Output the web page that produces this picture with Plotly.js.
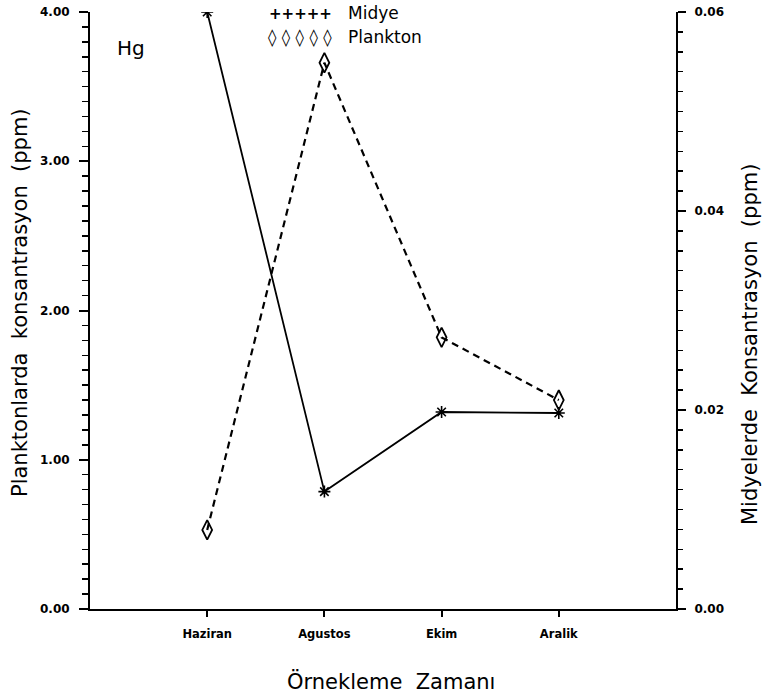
<!DOCTYPE html>
<html>
<head>
<meta charset="utf-8">
<script src="https://cdn.plot.ly/plotly-3.0.1.min.js"></script>
<style>html,body{margin:0;padding:0;background:#fff;}#chart{width:764px;height:698px;}</style>
</head>
<body>
<div id="chart"></div>
<script>
// Sampling months (x categories)
const months = ["Haziran", "Agustos", "Ekim", "Aralik"];
// Hg concentration in mussels (ppm, right axis)
const midye = [0.060, 0.0118, 0.0198, 0.0197];
// Hg concentration in plankton (ppm, left axis)
const plankton = [0.53, 3.66, 1.82, 1.40];
// Tick values
const leftTicks = [0, 1, 2, 3, 4];
const rightTicks = [0, 0.02, 0.04, 0.06];

const L = 90, R = 676, T = 12, B = 609;
const W = 764, H = 698;
const px = x => (x - L) / (R - L);
const py = y => (B - y) / (B - T);

const tickFont = {family: "DejaVu Sans", size: 12, color: "#000", weight: "bold"};
const titleFont = {family: "DejaVu Sans", size: 21, color: "#000"};
const legFont = {family: "DejaVu Sans", size: 17, color: "#000"};

const traces = [
  {
    x: months, y: midye, yaxis: "y2", name: "Midye", type: "scatter",
    mode: "lines+markers",
    line: {color: "#000", width: 1.8},
    marker: {symbol: "asterisk-open", size: 10, color: "#000", line: {color: "#000", width: 1.6}}
  },
  {
    x: months, y: plankton, yaxis: "y", name: "Plankton", type: "scatter",
    mode: "lines+markers",
    line: {color: "#000", width: 2.2, dash: "7px,5px"},
    marker: {symbol: "diamond-tall-open", size: 14, color: "#000", line: {color: "#000", width: 1.8}}
  }
];

const layout = {
  width: W, height: H,
  margin: {l: L, r: W - R, t: T, b: H - B, pad: 0},
  paper_bgcolor: "#fff", plot_bgcolor: "#fff",
  showlegend: false,
  font: {family: "DejaVu Sans", color: "#000"},
  xaxis: {
    type: "category", range: [-1, 4], showgrid: false, zeroline: false,
    showline: true, linecolor: "#000", linewidth: 2,
    ticks: "outside", ticklen: 6, tickwidth: 2, tickcolor: "#000",
    tickfont: {family: "DejaVu Sans", size: 11.5, color: "#000", weight: "bold"},
    ticklabelstandoff: 7
  },
  yaxis: {
    range: [0, 4], tickvals: leftTicks, tickformat: ".2f",
    showgrid: false, zeroline: false,
    showline: true, linecolor: "#000", linewidth: 2,
    ticks: "outside", ticklen: 9, tickwidth: 2, tickcolor: "#000",
    tickfont: tickFont, ticklabelstandoff: 7,
    minor: {dtick: 0.1, ticks: "outside", ticklen: 6, tickwidth: 1.5, tickcolor: "#000", showgrid: false}
  },
  yaxis2: {
    overlaying: "y", side: "right",
    range: [0, 0.06], tickvals: rightTicks, tickformat: ".2f",
    showgrid: false, zeroline: false,
    showline: true, linecolor: "#000", linewidth: 2,
    ticks: "outside", ticklen: 8, tickwidth: 2, tickcolor: "#000",
    tickfont: tickFont, ticklabelstandoff: 6,
    minor: {dtick: 0.002, ticks: "outside", ticklen: 5, tickwidth: 1.5, tickcolor: "#000", showgrid: false}
  },
  annotations: [
    {xref: "paper", yref: "paper", x: px(131), y: py(48), text: "Hg", showarrow: false,
     xanchor: "center", yanchor: "middle", font: {family: "DejaVu Sans", size: 20, color: "#000"}},
    {xref: "paper", yref: "paper", x: px(267), y: py(25), text: "+++++", showarrow: false,
     xanchor: "left", yanchor: "bottom", font: {family: "DejaVu Sans", size: 15, color: "#000", weight: "bold"}},
    {xref: "paper", yref: "paper", x: px(346), y: py(25), text: "Midye", showarrow: false,
     xanchor: "left", yanchor: "bottom", font: legFont},
    {xref: "paper", yref: "paper", x: px(266), y: py(25), text: "\u25CA \u25CA \u25CA \u25CA \u25CA", showarrow: false,
     xanchor: "left", yanchor: "top", font: {family: "DejaVu Sans", size: 17, color: "#000"}},
    {xref: "paper", yref: "paper", x: px(346), y: py(25), text: "Plankton", showarrow: false,
     xanchor: "left", yanchor: "top", font: legFont},
    {xref: "paper", yref: "paper", x: px(20), y: py(303), text: "Planktonlarda\u00a0\u00a0konsantrasyon\u00a0\u00a0(ppm)", showarrow: false,
     textangle: -90, xanchor: "center", yanchor: "middle", font: titleFont},
    {xref: "paper", yref: "paper", x: px(750), y: py(345), text: "Midyelerde\u00a0\u00a0Konsantrasyon\u00a0\u00a0(ppm)", showarrow: false,
     textangle: -90, xanchor: "center", yanchor: "middle", font: titleFont},
    {xref: "paper", yref: "paper", x: px(391), y: py(682), text: "Örnekleme\u00a0\u00a0Zamanı", showarrow: false,
     xanchor: "center", yanchor: "middle", font: {family: "DejaVu Sans", size: 21, color: "#000"}}
  ]
};

Plotly.newPlot("chart", traces, layout, {staticPlot: true, displayModeBar: false});
</script>
</body>
</html>
